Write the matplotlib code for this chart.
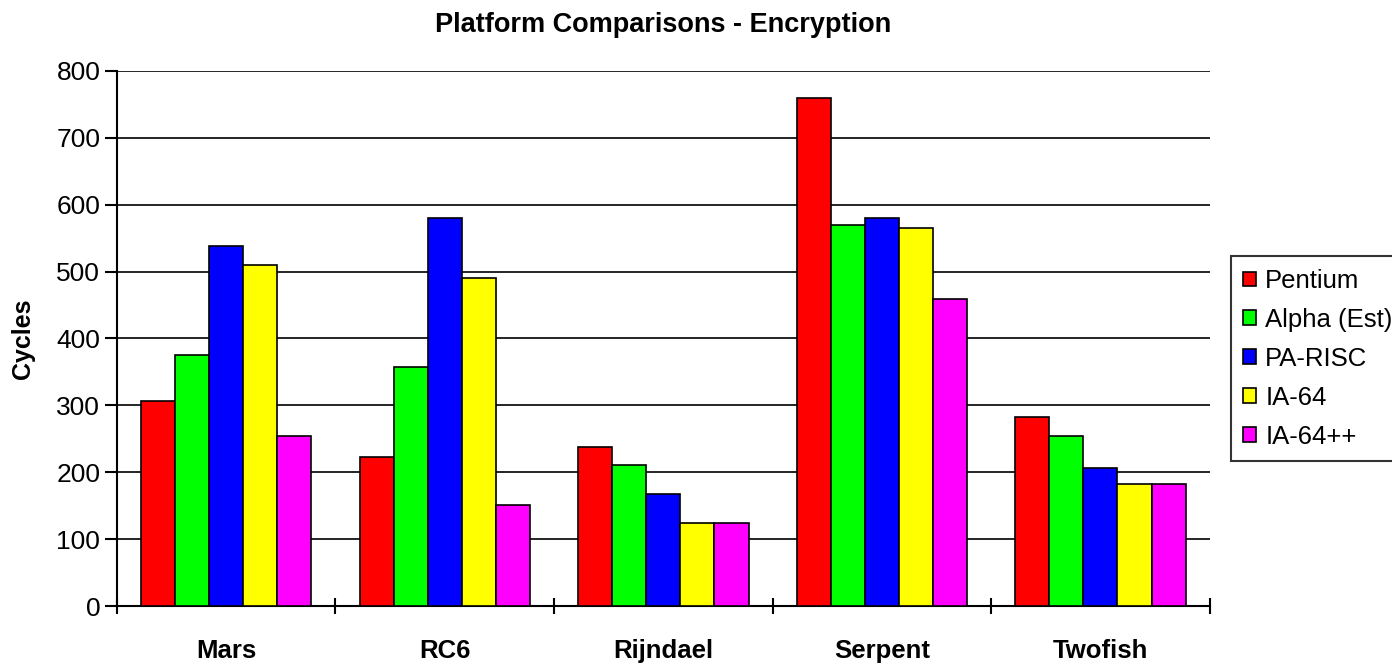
import numpy as np
import matplotlib.pyplot as plt

plt.rcParams['font.family'] = ['Liberation Sans', 'DejaVu Sans']

ciphers = ['Mars', 'RC6', 'Rijndael', 'Serpent', 'Twofish']
platforms = ['Pentium', 'Alpha (Est)', 'PA-RISC', 'IA-64', 'IA-64++']
colors = ['#ff0000', '#00ff00', '#0000ff', '#ffff00', '#ff00ff']

pentium = [307, 223, 238, 759, 283]
alpha = [375, 358, 211, 569, 254]
parisc = [538, 580, 167, 580, 206]
ia64 = [510, 490, 124, 565, 182]
ia64pp = [254, 151, 124, 459, 182]
series = [pentium, alpha, parisc, ia64, ia64pp]

fig = plt.figure(figsize=(13.92, 6.64), dpi=100)
ax = fig.add_axes([0.084, 0.0873, 0.785, 0.806])

x = np.arange(len(ciphers))
w = 0.156
for i, vals in enumerate(series):
    ax.bar(x + (i - 2) * w, vals, w, color=colors[i], edgecolor='black',
           linewidth=1.2, label=platforms[i], zorder=3)

ax.set_xlim(-0.5, 4.5)
ax.set_ylim(0, 800)
ax.set_yticks(range(0, 801, 100))
ax.yaxis.grid(True, color='black', linewidth=1.2, zorder=0)
ax.set_xticks(x)
ax.set_xticklabels(ciphers, fontsize=18.5, fontweight='bold')
ax.tick_params(axis='x', length=0, pad=24)
ax.set_xticks(np.arange(-0.5, 5, 1), minor=True)
ax.tick_params(axis='x', which='minor', direction='inout', length=12, width=1.5)
ax.tick_params(axis='y', direction='out', length=9, width=1.5, labelsize=19, pad=3)

for s in ['top', 'right']:
    ax.spines[s].set_visible(False)
for s in ['left', 'bottom']:
    ax.spines[s].set_linewidth(1.5)

ax.set_ylabel('Cycles', fontsize=18, fontweight='bold', labelpad=15)
ax.set_title('Platform Comparisons - Encryption', fontsize=19.5, fontweight='bold', pad=28)

leg = ax.legend(loc='center left', bbox_to_anchor=(1.0192, 0.462, 0.3, 0.0), fontsize=18.5,
                frameon=True, fancybox=False, edgecolor='black', borderpad=0.5,
                handlelength=0.5, handleheight=0.5, handletextpad=0.35,
                labelspacing=0.58, borderaxespad=0)
leg.get_frame().set_linewidth(1.5)

fig.savefig('out.png', dpi=100)
